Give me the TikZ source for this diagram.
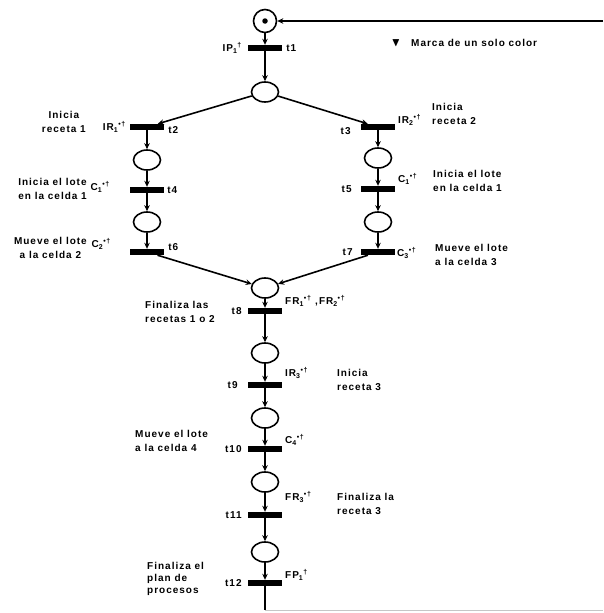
\documentclass[tikz,border=0pt]{standalone}
\usepackage{fontspec}
\setmainfont[LetterSpace=10]{Liberation Sans}
\usepackage{amssymb}
\usetikzlibrary{arrows.meta, positioning, shapes.geometric}

\begin{document}
\begin{tikzpicture}[
    x=1pt, y=-1pt,
    plc/.style     = {draw, ellipse, line width=1.6pt,
                      minimum width=27pt, minimum height=20pt, inner sep=0pt},
    plcinit/.style = {plc, circle, minimum size=23pt},
    marca/.style   = {circle, fill=black, minimum size=5.5pt, inner sep=0pt},
    trn/.style     = {fill=black, minimum width=34pt, minimum height=6pt,
                      inner sep=0pt},
    arr/.style     = {-{Stealth[length=6pt, width=5.5pt]}, line width=1.6pt},
    lbl/.style     = {font=\fontsize{10}{14}\selectfont\bfseries, inner sep=1pt},
    txt/.style     = {lbl, align=left}
  ]
  \useasboundingbox (0,0) rectangle (603,613);

  %% initial place and t1
  \node[plcinit] (p0) at (265,21) {};
  \node[marca] (m0) at (p0) {};
  \node[trn] (t1) at (265,48) {};
  \node[plc] (p1) at (265,92) {};
  \node[lbl, anchor=east] (lt1) at (243,48) {IP\textsubscript{1}\textsuperscript{†}};
  \node[lbl, right=3pt of t1] (nt1) {t1};

  %% legend
  \node[lbl, font=\large] (lgtri) at (396,43) {$\blacktriangledown$};
  \node[lbl, anchor=west] (lgd) at (410,43) {Marca de un solo color};

  %% left branch: receta 1
  \node[trn] (t2) at (147,127) {};
  \node[plc] (p2) at (147,160) {};
  \node[trn] (t4) at (147,190) {};
  \node[plc] (p4) at (147,222) {};
  \node[trn] (t6) at (147,252) {};
  \node[lbl, anchor=east] (lt2) at (127,127) {IR\textsubscript{1}\textsuperscript{•†}};
  \node[lbl, anchor=east, align=center] (dt2) at (87,122) {Inicia\\receta 1};
  \node[lbl, right=3pt of t2, yshift=-3pt] (nt2) {t2};
  \node[lbl, anchor=east] (lt4) at (111,187) {C\textsubscript{1}\textsuperscript{•†}};
  \node[txt, anchor=east] (dt4) at (88,189) {Inicia el lote\\en la celda 1};
  \node[lbl, right=2pt of t4] (nt4) {t4};
  \node[lbl, anchor=east] (lt6) at (112,244) {C\textsubscript{2}\textsuperscript{•†}};
  \node[lbl, anchor=east, align=center] (dt6) at (88,248) {Mueve el lote\\a la celda 2};
  \node[lbl, right=3pt of t6, yshift=5pt] (nt6) {t6};

  %% right branch: receta 2
  \node[trn] (t3) at (378,127) {};
  \node[plc] (p3) at (378,158) {};
  \node[trn] (t5) at (378,189) {};
  \node[plc] (p5) at (378,222) {};
  \node[trn] (t7) at (378,252) {};
  \node[lbl, left=9pt of t3, yshift=-4pt] (nt3) {t3};
  \node[lbl, anchor=west] (lt3) at (397,120) {IR\textsubscript{2}\textsuperscript{•†}};
  \node[txt, anchor=west] (dt3) at (431,114) {Inicia\\receta 2};
  \node[lbl, left=8pt of t5] (nt5) {t5};
  \node[lbl, anchor=west] (lt5) at (397,179) {C\textsubscript{1}\textsuperscript{•†}};
  \node[txt, anchor=west] (dt5) at (432,181) {Inicia el lote\\en la celda 1};
  \node[lbl, left=7pt of t7] (nt7) {t7};
  \node[lbl, anchor=west] (lt7) at (396,253) {C\textsubscript{3}\textsuperscript{•†}};
  \node[txt, anchor=west] (dt7) at (434,255) {Mueve el lote\\a la celda 3};

  %% central column
  \node[plc] (p6) at (265,288) {};
  \node[trn] (t8) at (265,311) {};
  \node[plc] (p7) at (265,353) {};
  \node[trn] (t9) at (265,385) {};
  \node[plc] (p8) at (265,418) {};
  \node[trn] (t10) at (265,449) {};
  \node[plc] (p9) at (265,482) {};
  \node[trn] (t11) at (265,515) {};
  \node[plc] (p10) at (265,552) {};
  \node[trn] (t12) at (265,583) {};

  \node[lbl, left=5pt of t8] (nt8) {t8};
  \node[lbl, anchor=west] (lt8) at (284,301)
       {FR\textsubscript{1}\textsuperscript{•†} ,FR\textsubscript{2}\textsuperscript{•†}};
  \node[txt, anchor=west] (dt8) at (144,312) {Finaliza las\\recetas 1 o 2};
  \node[lbl, left=9pt of t9] (nt9) {t9};
  \node[lbl, anchor=west] (lt9) at (284,373) {IR\textsubscript{3}\textsuperscript{•†}};
  \node[txt, anchor=west] (dt9) at (336,380) {Inicia\\receta 3};
  \node[lbl, left=5pt of t10] (nt10) {t10};
  \node[lbl, anchor=west] (lt10) at (284,440) {C\textsubscript{4}\textsuperscript{•†}};
  \node[txt, anchor=west] (dt10) at (134,441) {Mueve el lote\\a la celda 4};
  \node[lbl, left=5pt of t11] (nt11) {t11};
  \node[lbl, anchor=west] (lt11) at (284,497) {FR\textsubscript{3}\textsuperscript{•†}};
  \node[txt, anchor=west] (dt11) at (336,504) {Finaliza la\\receta 3};
  \node[lbl, left=5pt of t12] (nt12) {t12};
  \node[lbl, anchor=west] (lt12) at (284,575) {FP\textsubscript{1}\textsuperscript{†}};
  \node[txt, anchor=west, font=\fontsize{10}{12}\selectfont\bfseries] (dt12) at (146,579)
       {Finaliza el\\plan de\\procesos};

  %% feedback path
  \coordinate (fb)  at (265,610);
  \coordinate (fbr) at (603,610);
  \coordinate (entry) at (603,21);

  %% arcs
  \draw[arr] (p0) -- (t1);
  \draw[arr] (t1) -- (p1);
  \draw[arr] (p1) -- (t2);
  \draw[arr] (p1) -- (t3);
  \draw[arr] (t2) -- (p2);
  \draw[arr] (p2) -- (t4);
  \draw[arr] (t4) -- (p4);
  \draw[arr] (p4) -- (t6);
  \draw[arr] (t3) -- (p3);
  \draw[arr] (p3) -- (t5);
  \draw[arr] (t5) -- (p5);
  \draw[arr] (p5) -- (t7);
  \draw[arr] (t6) -- (p6);
  \draw[arr] (t7) -- (p6);
  \draw[arr] (p6) -- (t8);
  \draw[arr] (t8) -- (p7);
  \draw[arr] (p7) -- (t9);
  \draw[arr] (t9) -- (p8);
  \draw[arr] (p8) -- (t10);
  \draw[arr] (t10) -- (p9);
  \draw[arr] (p9) -- (t11);
  \draw[arr] (t11) -- (p10);
  \draw[arr] (p10) -- (t12);
  \draw[line width=1.6pt] (t12) -- (fb);
  \draw[gray!45, line width=1pt] (fb) -- (fbr);
  \draw[arr, line width=2pt] (entry) -- (p0);

\end{tikzpicture}
\end{document}
